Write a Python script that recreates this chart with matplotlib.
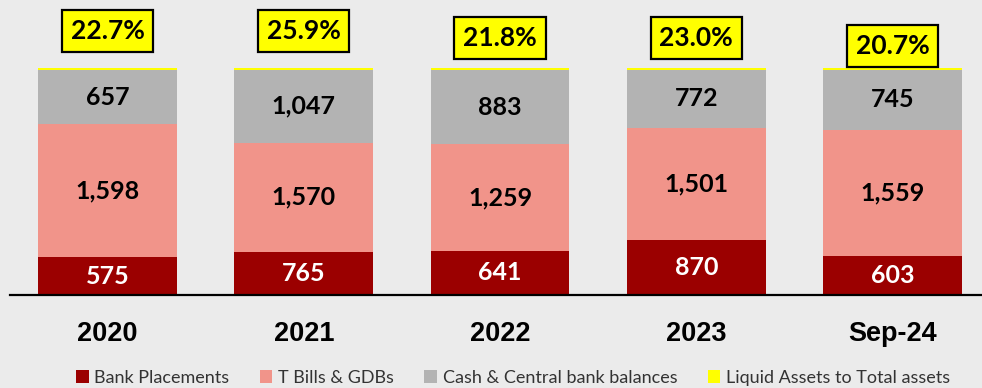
import matplotlib.pyplot as plt
import numpy as np

years = ['2020', '2021', '2022', '2023', 'Sep-24']
bank_placements = [575, 765, 641, 870, 603]
tbills_gdbs = [1598, 1570, 1259, 1501, 1559]
cash_cb = [657, 1047, 883, 772, 745]
liquid_ratio = [22.7, 25.9, 21.8, 23.0, 20.7]

# height of the ratio boxes above each bar (axis units)
box_y = [1.157, 1.156, 1.126, 1.126, 1.093]

c_red = '#9b0000'
c_pink = '#f1948a'
c_grey = '#b3b3b3'
c_yel = '#ffff00'
bg = '#ebebeb'

plt.rcParams['font.family'] = ['Lato', 'DejaVu Sans']

bp = np.array(bank_placements, float)
tb = np.array(tbills_gdbs, float)
cc = np.array(cash_cb, float)
lr = np.array(liquid_ratio, float)
tot = bp + tb + cc + lr

fig = plt.figure(figsize=(9.82, 3.88), dpi=100, facecolor=bg)
ax = fig.add_axes([10 / 982, 1 - 295 / 388, 972 / 982, 295 / 388])
ax.set_facecolor(bg)

x = np.arange(len(years))
w = 0.708
b1 = ax.bar(x, bp / tot, w, color=c_red, label='Bank Placements')
b2 = ax.bar(x, tb / tot, w, bottom=bp / tot, color=c_pink, label='T Bills & GDBs')
b3 = ax.bar(x, cc / tot, w, bottom=(bp + tb) / tot, color=c_grey,
            label='Cash & Central bank balances')
b4 = ax.bar(x, lr / tot, w, bottom=(bp + tb + cc) / tot, color=c_yel,
            label='Liquid Assets to Total assets')

ax.set_xlim(-0.497, 4.456)
ax.set_ylim(0.042, 1.287)

for i in range(len(years)):
    ax.text(x[i], bp[i] / tot[i] / 2 + 0.021, f'{bank_placements[i]:,}',
            ha='center', va='center', color='white', fontsize=18, fontweight='bold')
    ax.text(x[i], (bp[i] + tb[i] / 2) / tot[i], f'{tbills_gdbs[i]:,}',
            ha='center', va='center', color='black', fontsize=18, fontweight='bold')
    ax.text(x[i], (bp[i] + tb[i] + cc[i] / 2) / tot[i], f'{cash_cb[i]:,}',
            ha='center', va='center', color='black', fontsize=18, fontweight='bold')
    ax.text(x[i], box_y[i], f'{liquid_ratio[i]:.1f}%', ha='center', va='center',
            color='black', fontsize=19, fontweight='bold',
            bbox=dict(boxstyle='square,pad=0.33', fc=c_yel, ec='black', lw=1.6))

for s in ['top', 'right', 'left']:
    ax.spines[s].set_visible(False)
ax.spines['bottom'].set_linewidth(1.6)
ax.set_yticks([])
ax.set_xticks(x)
ax.set_xticklabels(years, fontsize=19.5, fontweight='bold', family='Liberation Sans')
ax.tick_params(axis='x', length=0, pad=19)

fig.legend(handles=[b1, b2, b3, b4], loc='center', bbox_to_anchor=(513 / 982, 1 - 378 / 388),
           ncol=4, frameon=False, fontsize=13, handlelength=0.7, handleheight=0.7,
           handletextpad=0.3, columnspacing=1.7, labelcolor='#333333')

fig.savefig('out.png', dpi=100, facecolor=bg)
